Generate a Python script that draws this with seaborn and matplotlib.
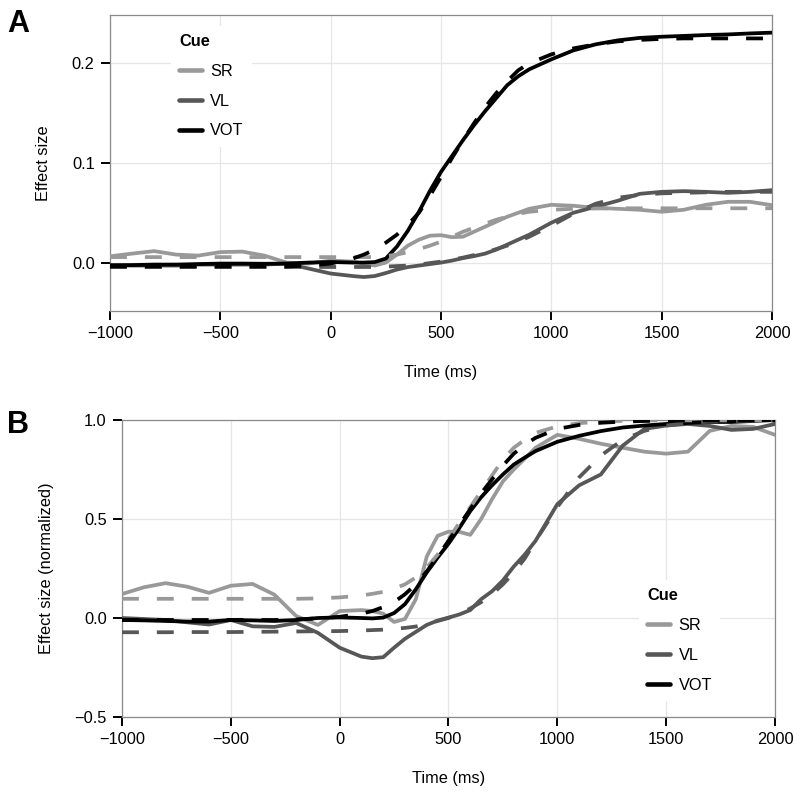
import numpy as np
import pandas as pd
import matplotlib
matplotlib.use("Agg")
import matplotlib.pyplot as plt
from matplotlib.lines import Line2D
import seaborn as sns

# ---------------- data ----------------
times = [-1000, -900, -800, -700, -600, -500, -400, -300, -200, -100, 0,
         100, 150, 200, 250, 300, 350, 400, 450, 500, 550, 600, 650, 700,
         750, 800, 850, 900, 1000, 1100, 1200, 1300, 1400, 1500, 1600,
         1700, 1800, 1900, 2000]

cues = ["SR", "VL", "VOT"]

# Panel A: raw effect size (solid = observed, dashed = fitted)
a_sr_obs = [0.0063, 0.009, 0.0115, 0.008, 0.007, 0.0105, 0.011, 0.007, 0.0, -0.001, 0.002,
            0.001, -0.001, -0.003, 0.0, 0.008, 0.017, 0.023, 0.027, 0.0275, 0.0255, 0.026, 0.031, 0.036,
            0.041, 0.046, 0.050, 0.054, 0.058, 0.057, 0.055, 0.054, 0.053, 0.051, 0.053,
            0.058, 0.061, 0.061, 0.0576]
a_sr_fit = [0.0055, 0.0055, 0.0055, 0.0055, 0.0055, 0.0055, 0.0055, 0.0055, 0.0055, 0.0055, 0.0055,
            0.0055, 0.0055, 0.0055, 0.0065, 0.008, 0.0105, 0.0135, 0.017, 0.021, 0.026, 0.031, 0.035, 0.039,
            0.043, 0.046, 0.049, 0.051, 0.053, 0.054, 0.0543, 0.0545, 0.0545, 0.0545, 0.0545,
            0.0545, 0.0545, 0.0545, 0.0545]
a_vl_obs = [-0.0027, -0.003, -0.003, -0.003, -0.002, -0.002, -0.002, -0.002, -0.001, -0.006, -0.011,
            -0.0135, -0.0145, -0.0135, -0.0105, -0.007, -0.0045, -0.003, -0.0015, 0.0, 0.002, 0.0045, 0.0065, 0.009,
            0.013, 0.018, 0.023, 0.028, 0.040, 0.050, 0.056, 0.062, 0.069, 0.071, 0.0717,
            0.071, 0.070, 0.071, 0.0727]
a_vl_fit = [-0.0044, -0.0044, -0.0044, -0.0044, -0.0044, -0.0044, -0.0044, -0.0044, -0.0044, -0.0044, -0.0044,
            -0.0044, -0.0044, -0.0044, -0.004, -0.0035, -0.003, -0.002, -0.0005, 0.001, 0.003, 0.005, 0.0075, 0.010,
            0.0135, 0.017, 0.021, 0.026, 0.037, 0.049, 0.059, 0.065, 0.068, 0.0695, 0.070,
            0.0705, 0.071, 0.071, 0.071]
a_vot_obs = [-0.0027, -0.0025, -0.002, -0.002, -0.0015, -0.001, -0.001, -0.0012, -0.001, 0.0, 0.0006,
             0.0, 0.0, 0.0005, 0.004, 0.016, 0.032, 0.051, 0.072, 0.091, 0.107, 0.123, 0.138, 0.152,
             0.165, 0.178, 0.187, 0.194, 0.204, 0.213, 0.219, 0.223, 0.2255, 0.2267, 0.2275,
             0.2284, 0.229, 0.230, 0.2308]
a_vot_fit = [-0.004, -0.004, -0.004, -0.004, -0.004, -0.004, -0.004, -0.004, -0.004, -0.003, -0.001,
             0.004, 0.008, 0.013, 0.020, 0.028, 0.038, 0.050, 0.067, 0.086, 0.105, 0.123, 0.140, 0.156,
             0.170, 0.182, 0.193, 0.200, 0.209, 0.215, 0.219, 0.222, 0.2235, 0.2245, 0.225,
             0.225, 0.225, 0.225, 0.225]

# Panel B: normalized effect size
b_sr_obs = [0.121, 0.155, 0.176, 0.158, 0.127, 0.163, 0.172, 0.118, 0.01, -0.035, 0.035,
            0.04, 0.035, 0.022, -0.02, -0.005, 0.095, 0.31, 0.415, 0.436, 0.435, 0.42, 0.50, 0.60,
            0.69, 0.75, 0.805, 0.86, 0.925, 0.905, 0.88, 0.86, 0.84, 0.83, 0.84,
            0.945, 0.97, 0.965, 0.925]
b_sr_fit = [0.097, 0.097, 0.097, 0.097, 0.097, 0.097, 0.097, 0.097, 0.097, 0.099, 0.104,
            0.114, 0.122, 0.132, 0.148, 0.17, 0.205, 0.255, 0.32, 0.40, 0.48, 0.56, 0.64, 0.72,
            0.80, 0.86, 0.90, 0.935, 0.968, 0.984, 0.992, 0.996, 0.998, 0.998, 0.998,
            0.998, 0.998, 0.998, 0.998]
b_vl_obs = [0.0, -0.005, -0.01, -0.022, -0.033, -0.01, -0.042, -0.045, -0.025, -0.075, -0.15,
            -0.195, -0.203, -0.198, -0.15, -0.105, -0.07, -0.035, -0.013, 0.002, 0.018, 0.04, 0.095, 0.135,
            0.19, 0.26, 0.32, 0.39, 0.575, 0.67, 0.725, 0.87, 0.955, 0.972, 0.98,
            0.97, 0.95, 0.955, 0.98]
b_vl_fit = [-0.072, -0.072, -0.072, -0.071, -0.071, -0.071, -0.070, -0.069, -0.068, -0.067, -0.066,
            -0.063, -0.061, -0.059, -0.055, -0.05, -0.043, -0.03, -0.015, 0.0, 0.022, 0.048, 0.08, 0.12,
            0.17, 0.23, 0.30, 0.39, 0.56, 0.71, 0.82, 0.90, 0.945, 0.972, 0.985,
            0.992, 0.995, 0.997, 0.998]
b_vot_obs = [-0.01, -0.012, -0.015, -0.018, -0.018, -0.01, -0.012, -0.015, -0.01, 0.0, 0.003,
             0.0, -0.002, 0.002, 0.025, 0.07, 0.145, 0.23, 0.305, 0.375, 0.455, 0.54, 0.61, 0.67,
             0.725, 0.775, 0.81, 0.843, 0.89, 0.92, 0.944, 0.962, 0.972, 0.98, 0.985,
             0.99, 0.99, 0.995, 1.0]
b_vot_fit = [-0.01, -0.01, -0.01, -0.01, -0.01, -0.01, -0.01, -0.01, -0.007, -0.002, 0.006,
             0.022, 0.035, 0.055, 0.08, 0.12, 0.17, 0.235, 0.31, 0.39, 0.47, 0.55, 0.63, 0.70,
             0.77, 0.83, 0.875, 0.91, 0.955, 0.975, 0.986, 0.992, 0.995, 0.997, 0.998,
             0.998, 0.998, 0.998, 0.998]

x_ticks = [-1000, -500, 0, 500, 1000, 1500, 2000]
a_yticks = [0.0, 0.1, 0.2]
b_yticks = [-0.5, 0.0, 0.5, 1.0]

panel_a = {"obs": [a_sr_obs, a_vl_obs, a_vot_obs], "fit": [a_sr_fit, a_vl_fit, a_vot_fit]}
panel_b = {"obs": [b_sr_obs, b_vl_obs, b_vot_obs], "fit": [b_sr_fit, b_vl_fit, b_vot_fit]}


def to_long(panel):
    rows = []
    for kind, series in panel.items():
        for cue, vals in zip(cues, series):
            for t, v in zip(times, vals):
                rows.append({"Time": t, "Effect": v, "Cue": cue, "Kind": kind})
    return pd.DataFrame(rows)


df_a = to_long(panel_a)
df_b = to_long(panel_b)

# ---------------- style ----------------
sns.set_theme(style="white")
plt.rcParams["font.family"] = ["Liberation Sans", "DejaVu Sans"]
plt.rcParams["text.color"] = "black"
plt.rcParams["axes.labelcolor"] = "black"
plt.rcParams["xtick.color"] = "black"
plt.rcParams["ytick.color"] = "black"
FS = 11.8
palette = {"SR": "#999999", "VL": "#575757", "VOT": "#000000"}
LW = 2.7
DASH = (0, (4.5, 4.8))

fig = plt.figure(figsize=(8, 7.96), dpi=100)
ax_a = fig.add_axes([110 / 800, 1 - 311 / 796, 662 / 800, 296 / 796])
ax_b = fig.add_axes([122 / 800, 1 - 717 / 796, 653 / 800, 297 / 796])


def draw(ax, df, ylim, yticks, ylabel, leg_anchor):
    sns.lineplot(data=df[df.Kind == "obs"], x="Time", y="Effect", hue="Cue",
                 hue_order=cues, palette=palette, linewidth=LW, errorbar=None,
                 legend=False, ax=ax, zorder=3)
    sns.lineplot(data=df[df.Kind == "fit"], x="Time", y="Effect", hue="Cue",
                 hue_order=cues, palette=palette, linewidth=LW, errorbar=None,
                 legend=False, ax=ax, linestyle=DASH, zorder=4)
    ax.set_xlim(-1000, 2000)
    ax.set_ylim(*ylim)
    ax.set_xticks(x_ticks)
    ax.set_yticks(yticks)
    ax.set_yticklabels([f"{v:.1f}".replace("-", "\u2212") for v in yticks])
    ax.set_xticklabels([str(v).replace("-", "\u2212") for v in x_ticks])
    ax.grid(True, color="#e6e6e6", linewidth=0.9, zorder=0)
    ax.set_axisbelow(True)
    for s in ax.spines.values():
        s.set_color("#8a8a8a")
        s.set_linewidth(0.9)
    ax.tick_params(axis="both", which="major", direction="out", length=6.5,
                   width=1.4, color="black", labelsize=FS, labelcolor="black", pad=4.5,
                   bottom=True, left=True)
    ax.set_xlabel("Time (ms)", fontsize=FS, labelpad=17)
    ax.set_ylabel(ylabel, fontsize=FS, labelpad=15)
    handles = [Line2D([], [], color=palette[c], linewidth=3.3) for c in cues]
    leg = ax.legend(handles, cues, title="Cue", loc="upper left",
                    bbox_to_anchor=leg_anchor, borderaxespad=0, frameon=True,
                    fancybox=False, edgecolor="none", facecolor="white", framealpha=1,
                    fontsize=FS, title_fontproperties={"weight": "bold", "size": FS},
                    handlelength=1.4, handletextpad=0.5, labelspacing=0.9,
                    borderpad=0.5, alignment="left")
    leg.set_zorder(5)


draw(ax_a, df_a, (-0.0486, 0.2485), a_yticks, "Effect size", (0.092, 0.963))
draw(ax_b, df_b, (-0.5, 1.0), b_yticks, "Effect size (normalized)", (0.792, 0.461))

fig.text(7 / 800, 1 - 32 / 796, "A", fontsize=22, fontweight="bold", va="baseline", ha="left")
fig.text(7 / 800, 1 - 433 / 796, "B", fontsize=22, fontweight="bold", va="baseline", ha="left")

fig.savefig("out.png", dpi=100, facecolor="white")
